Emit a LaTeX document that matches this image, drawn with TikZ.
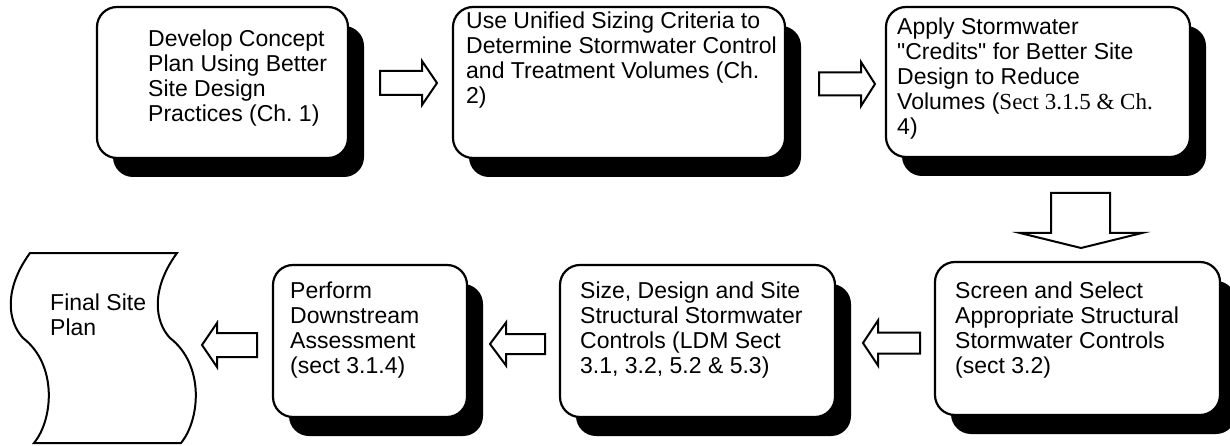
\documentclass[tikz,border=0pt]{standalone}
\usepackage{fontspec}
\setmainfont{Liberation Sans}
\newfontfamily\timesf{Liberation Serif}
\usetikzlibrary{shadows}
\begin{document}
\frenchspacing
\begin{tikzpicture}[x=1pt,y=-1pt,
  box/.style={draw=black, line width=2.2pt, fill=white, rounded corners=20pt,
    drop shadow={shadow xshift=16pt, shadow yshift=-19pt, fill=black, opacity=1}},
  txt/.style={anchor=north west, inner sep=0pt, align=left, font=\fontsize{23}{25}\selectfont},
  barrow/.style={draw=black, line width=2pt, fill=white, line join=miter},
  docshape/.style={draw=black, line width=2pt, fill=white}]
\useasboundingbox (0,0) rectangle (1230,446);

% boxes
\node[box, minimum width=251pt, minimum height=151pt] (b1) at (222.5,82.5) {};
\node[box, minimum width=332pt, minimum height=151pt] (b2) at (619,82.5) {};
\node[box, minimum width=304pt, minimum height=150pt] (b3) at (1038,82) {};
\node[box, minimum width=194pt, minimum height=152pt] (b4) at (370,341) {};
\node[box, minimum width=275pt, minimum height=152pt] (b5) at (697.5,341) {};
\node[box, minimum width=285pt, minimum height=153pt] (b6) at (1077.5,338.5) {};

% texts
\node[txt] (t1) at (148,28.5) {\strut Develop Concept\\Plan Using Better\\Site Design\\Practices (Ch. 1)};
\node[txt] (t2) at (466,10.5) {\strut Use Unified Sizing Criteria to\\Determine Stormwater Control\\and Treatment Volumes (Ch.\\2)};
\node[txt] (t3) at (897,16.5) {\strut Apply Stormwater\\\textquotedbl Credits\textquotedbl{} for Better Site\\Design to Reduce\\Volumes ({\timesf Sect 3.1.5 \& Ch.}\\4)};
\node[txt] (t4) at (290,280.5) {\strut Perform\\Downstream\\Assessment\\(sect 3.1.4)};
\node[txt] (t5) at (580,280.5) {\strut Size, Design and Site\\Structural Stormwater\\Controls (LDM Sect\\3.1, 3.2, 5.2 \& 5.3)};
\node[txt] (t6) at (955,280.5) {\strut Screen and Select\\Appropriate Structural\\Stormwater Controls\\(sect 3.2)};

% final document shape
\draw[docshape] (30,253) -- (177,253)
  .. controls (150,290) and (155,322) .. (170,338)
  .. controls (205,365) and (200,420) .. (181,443)
  -- (34,443)
  .. controls (53,420) and (58,365) .. (23,338)
  .. controls (8,322) and (3,290) .. (30,253) -- cycle;
\node[txt] (t7) at (50,292.5) {\strut Final Site\\Plan};

% block arrows
\draw[barrow] (380,71) -- (422,71) -- (422,61) -- (437,83) -- (422,105) -- (422,95) -- (380,95) -- cycle;
\draw[barrow] (819,72.5) -- (861,72.5) -- (861,62) -- (875,84) -- (861,106) -- (861,95.5) -- (819,95.5) -- cycle;
\draw[barrow] (1051,193) -- (1110,193) -- (1110,233) -- (1142,233) -- (1081,248) -- (1020,233) -- (1051,233) -- cycle;
\draw[barrow] (920,332.5) -- (878,332.5) -- (878,320.5) -- (863,343) -- (878,365.5) -- (878,353.5) -- (920,353.5) -- cycle;
\draw[barrow] (545,334) -- (506,334) -- (506,322.5) -- (490,344) -- (506,365.5) -- (506,354) -- (545,354) -- cycle;
\draw[barrow] (257,333) -- (217,333) -- (217,323) -- (202,345) -- (217,367) -- (217,357) -- (257,357) -- cycle;
\end{tikzpicture}
\end{document}
